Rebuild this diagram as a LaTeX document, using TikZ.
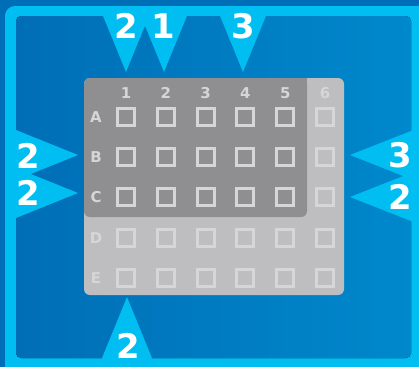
\documentclass[tikz,border=0pt]{standalone}
\usepackage{fontspec}
\setmainfont{DejaVu Sans}
\definecolor{bgdark}{RGB}{0,110,182}
\definecolor{bglight}{RGB}{0,136,204}
\definecolor{framecyan}{RGB}{0,190,242}
\definecolor{platelight}{RGB}{190,190,192}
\definecolor{platedark}{RGB}{143,143,146}
\definecolor{cellgray}{RGB}{214,214,214}

\begin{document}
\begin{tikzpicture}[x=1bp,y=-1bp,
    pointer/.style={fill=framecyan},
    count/.style={text=white,font=\fontsize{34}{34}\selectfont\bfseries},
    hint/.style={text=cellgray,font=\fontsize{15}{15}\selectfont\bfseries},
    cellbox/.style={draw=cellgray,line width=3bp}]
        \useasboundingbox (0,0) rectangle (419,367);
        % background and frame
        \fill[bgdark] (0,0) rectangle (419,367);
        \fill[framecyan, rounded corners=10] (5,6) rectangle (430,380);
        \fill[left color=bgdark, right color=bglight, rounded corners=5] (16,16) rectangle (411,358);
        % the plate
        \fill[platelight, rounded corners=6] (84,78) rectangle (344,295);
        \fill[platedark, rounded corners=6] (84,78) rectangle (307,217);
        \fill[platedark] (290,78) rectangle (307,100);
        \foreach \c [count=\i] in {1,...,6}
            \node[hint] (col\c) at ({126+39.8*(\i-1)},93) {\c};
        \foreach \r [count=\j] in {A,B,C,D,E}{
            \node[hint] (row\r) at (96,{117+40.2*(\j-1)}) {\r};
            \foreach \i in {1,...,6}
                \draw[cellbox] ({126+39.8*(\i-1)-8.5},{117+40.2*(\j-1)-8.5}) rectangle ++(17,17);
        }
        % pointers
        \fill[pointer] (101,11) -- (151,11) -- (126,72) -- cycle;
        \fill[pointer] (139,11) -- (189,11) -- (164,72) -- cycle;
        \fill[pointer] (218,11) -- (268,11) -- (243,72) -- cycle;
        \fill[pointer] (11,128) -- (11,182) -- (78,155) -- cycle;
        \fill[pointer] (11,166) -- (11,220) -- (78,193) -- cycle;
        \fill[pointer] (416,129) -- (416,181) -- (350,155) -- cycle;
        \fill[pointer] (416,171) -- (416,223) -- (350,197) -- cycle;
        \fill[pointer] (100,363) -- (154,363) -- (127,297) -- cycle;
        \node[count] (top1) at (126,26) {2};
        \node[count] (top2) at (163,26) {1};
        \node[count] (top4) at (243,26) {3};
        \node[count] (leftB) at (28,156) {2};
        \node[count] (leftC) at (28,193) {2};
        \node[count] (rightB) at (400,155) {3};
        \node[count] (rightC) at (400,197) {2};
        \node[count] (bottom1) at (128,346) {2};
    \end{tikzpicture}
\end{document}
